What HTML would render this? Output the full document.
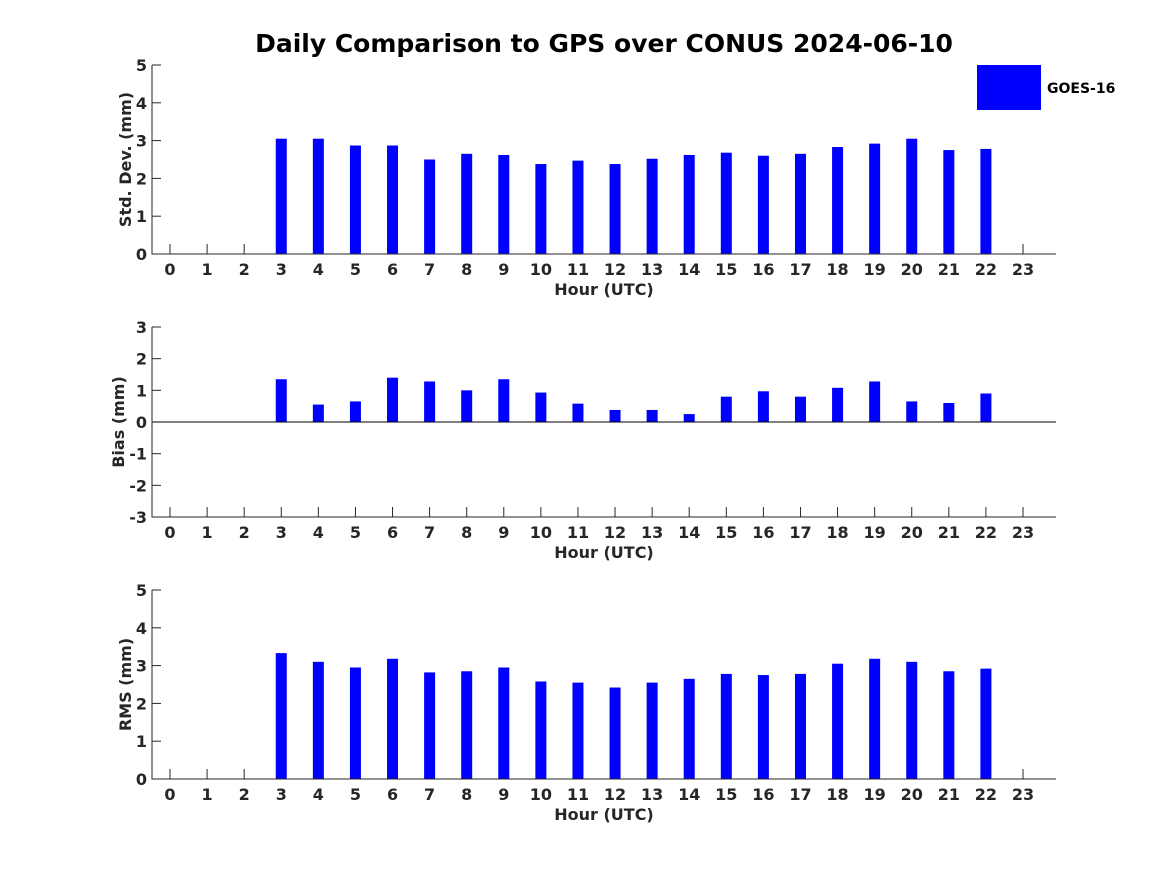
<!DOCTYPE html>
<html><head><meta charset="utf-8"><style>
body{margin:0;background:#fff;}
svg text{font-family:"DejaVu Sans","Liberation Sans",sans-serif;font-weight:bold;fill:#262626;}
</style></head><body>
<svg id="c" width="1167" height="875" xmlns="http://www.w3.org/2000/svg">
<text x="604" y="52" text-anchor="middle" font-size="25" style="fill:#000">Daily Comparison to GPS over CONUS 2024-06-10</text>
<rect x="977" y="65" width="64" height="45" fill="#0000ff"/>
<text x="1047" y="93" font-size="14" style="fill:#000">GOES-16</text>
</svg>
<script>
const hours=[0,1,2,3,4,5,6,7,8,9,10,11,12,13,14,15,16,17,18,19,20,21,22,23];
const stdVals=[null,null,null,3.05,3.05,2.87,2.87,2.5,2.65,2.62,2.38,2.47,2.38,2.52,2.62,2.68,2.6,2.65,2.83,2.92,3.05,2.75,2.78,null];
const biasVals=[null,null,null,1.35,0.55,0.65,1.4,1.28,1.0,1.35,0.93,0.58,0.38,0.38,0.25,0.8,0.97,0.8,1.08,1.28,0.65,0.6,0.9,null];
const rmsVals=[null,null,null,3.33,3.1,2.95,3.18,2.82,2.85,2.95,2.58,2.55,2.42,2.55,2.65,2.78,2.75,2.78,3.05,3.18,3.1,2.85,2.92,null];
const stdTicks=[0,1,2,3,4,5];
const biasTicks=[-3,-2,-1,0,1,2,3];
const rmsTicks=[0,1,2,3,4,5];
const svg=document.getElementById('c');
const NS='http://www.w3.org/2000/svg';
function mk(t,a){const e=document.createElementNS(NS,t);for(const k in a)e.setAttribute(k,a[k]);svg.appendChild(e);return e;}
const xL=152,xR=1056;
function xs(h){return 170+h*(1023-170)/23;}
function panel(id,top,bot,ymin,ymax,ticks,vals,ylabel,ylx){
  const ys=v=>bot-(v-ymin)/(ymax-ymin)*(bot-top);
  ticks.forEach(t=>{
    mk('line',{x1:xL,x2:xL+9,y1:ys(t),y2:ys(t),stroke:'#262626'});
    const tx=mk('text',{x:xL-5,y:ys(t)+6,'text-anchor':'end','font-size':16});
    tx.textContent=t;
    
    
  });
  hours.forEach(h=>{
    mk('line',{x1:xs(h),x2:xs(h),y1:bot,y2:bot-10,stroke:'#262626'});
    const tx=mk('text',{x:xs(h),y:bot+21,'text-anchor':'middle','font-size':16});
    tx.textContent=h;
    
    
  });
  vals.forEach((v,i)=>{
    if(v===null)return;
    const y0=ys(0),y1=ys(v);
    const r=mk('rect',{x:xs(hours[i])-5.5,y:Math.min(y0,y1),width:11,height:Math.abs(y1-y0),fill:'#0000ff'});
    
    
  });
  if(ymin<0){const z=mk('line',{x1:xL,x2:xR,y1:ys(0),y2:ys(0),stroke:'#000','stroke-width':1});
    
    }
  const ax=mk('path',{d:`M${xL} ${top}V${bot}H${xR}`,fill:'none',stroke:'#262626','stroke-width':1});
  
  
  const xl=mk('text',{x:604,y:bot+41,'text-anchor':'middle','font-size':16});
  xl.textContent='Hour (UTC)';
  
  
  const cy=(top+bot)/2;
  const yl=mk('text',{x:ylx,y:cy,'text-anchor':'middle','font-size':16,transform:`rotate(-90 ${ylx} ${cy})`});
  yl.textContent=ylabel;
  
  
}
panel('std',65,254,0,5,stdTicks,stdVals,'Std. Dev. (mm)',131);
panel('bias',327,517,-3,3,biasTicks,biasVals,'Bias (mm)',124);
panel('rms',590,779,0,5,rmsTicks,rmsVals,'RMS (mm)',131);
</script>
</body></html>
